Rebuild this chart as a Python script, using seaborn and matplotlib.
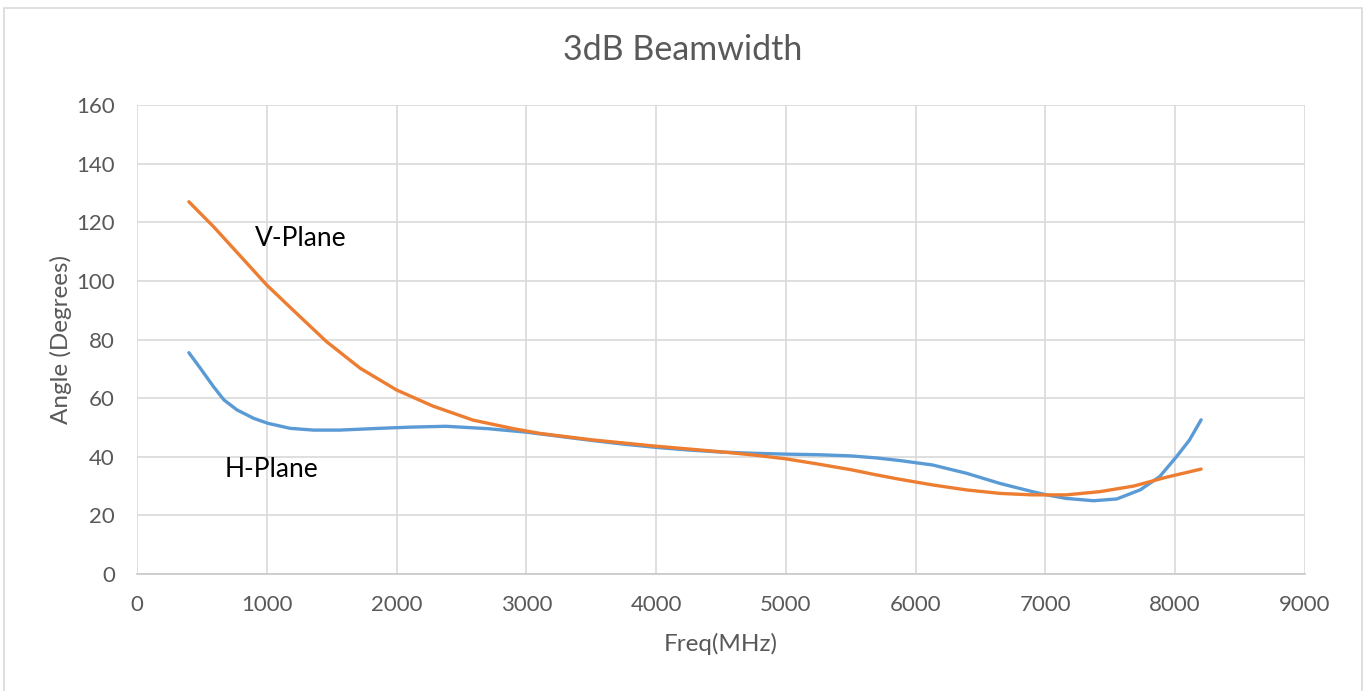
import pandas as pd
import matplotlib.pyplot as plt
import seaborn as sns
from matplotlib.patches import Rectangle

# values
h_freq = [400, 480, 590, 670, 770, 900, 1010, 1180, 1360, 1560, 1870, 2100, 2380,
          2700, 3000, 3250, 3500, 3750, 4000, 4250, 4500, 4750, 5000, 5250, 5500,
          5700, 5880, 6130, 6390, 6650, 6900, 7010, 7160, 7370, 7550, 7730, 7880,
          8010, 8110, 8200]
h_angle = [75.5, 70.7, 63.9, 59.4, 56.0, 53.1, 51.4, 49.7, 49.1, 49.1, 49.7, 50.1, 50.4,
           49.6, 48.4, 47.0, 45.6, 44.3, 43.2, 42.3, 41.6, 41.2, 40.9, 40.7, 40.3,
           39.6, 38.7, 37.2, 34.4, 30.9, 28.1, 27.0, 25.8, 25.0, 25.6, 28.7, 33.2,
           40.0, 45.7, 52.6]

v_freq = [400, 590, 790, 1000, 1230, 1460, 1720, 2000, 2280, 2590, 2900, 3100, 3500,
          4000, 4500, 4750, 5000, 5250, 5500, 5700, 5880, 6130, 6390, 6650, 6900,
          7160, 7420, 7680, 7930, 8200]
v_angle = [127.0, 118.5, 108.8, 98.6, 88.9, 79.3, 70.2, 62.8, 57.3, 52.5, 49.6, 48.0, 45.8,
           43.6, 41.7, 40.6, 39.3, 37.5, 35.6, 33.8, 32.3, 30.4, 28.7, 27.5, 27.0,
           27.0, 28.1, 30.0, 33.0, 35.8]

df = pd.concat([
    pd.DataFrame({'freq': h_freq, 'angle': h_angle, 'plane': 'H-Plane'}),
    pd.DataFrame({'freq': v_freq, 'angle': v_angle, 'plane': 'V-Plane'}),
])

sns.set_style("white")
plt.rcParams['font.family'] = ['Lato', 'DejaVu Sans']

fig = plt.figure(figsize=(13.67, 6.91), dpi=100)
ax = fig.add_axes([0.1002, 0.1693, 0.8544, 0.6787])

palette = {'H-Plane': '#5B9BD5', 'V-Plane': '#ED7D31'}
sns.lineplot(data=df, x='freq', y='angle', hue='plane', palette=palette,
             linewidth=2.4, legend=False, ax=ax, sort=True,
             solid_capstyle='round', solid_joinstyle='round')

ax.set_xlim(0, 9000)
ax.set_ylim(0, 160)
ax.set_xticks(range(0, 9001, 1000))
ax.set_yticks(range(0, 161, 20))
ax.grid(True, color='#D9D9D9', linewidth=1.2)
ax.set_axisbelow(True)
for s in ['left', 'right', 'top']:
    ax.spines[s].set_visible(False)
ax.spines['bottom'].set_color('#C8C8C8')
ax.spines['bottom'].set_linewidth(1.2)
ax.tick_params(axis='both', length=0, labelsize=16, labelcolor='#595959')
ax.tick_params(axis='y', pad=16)
ax.tick_params(axis='x', pad=15)

ax.set_xlabel('Freq(MHz)', fontsize=17.5, color='#595959', labelpad=13)
ax.set_ylabel('Angle (Degrees)', fontsize=17.5, color='#595959', labelpad=3)
fig.text(0.4995, 0.928, '3dB Beamwidth', ha='center', va='center',
         fontsize=24.5, color='#595959')

ax.text(909, 114.6, 'V-Plane', fontsize=19, color='black', va='center')
ax.text(678, 35.8, 'H-Plane', fontsize=19, color='black', va='center')

# chart border
fig.patches.append(Rectangle((0.003, -0.01), 0.993, 0.999, transform=fig.transFigure,
                             fill=False, edgecolor='#D9D9D9', linewidth=1.2))

plt.savefig('out.png', dpi=100)
